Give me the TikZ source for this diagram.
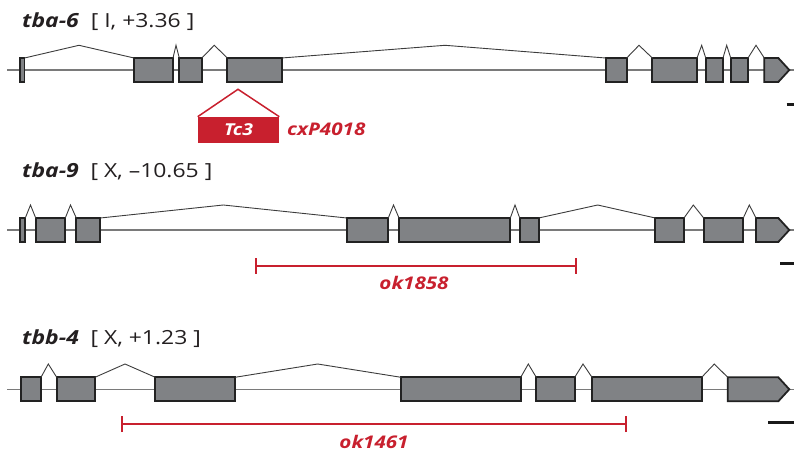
\documentclass[tikz,border=0pt]{standalone}
\usepackage{fontspec}
\setmainfont{Open Sans}[FakeStretch=1.18]
\definecolor{exonfill}{HTML}{808285}
\definecolor{exonline}{HTML}{222222}
\definecolor{axisgray}{HTML}{7A7A7A}
\definecolor{intronc}{HTML}{3C3C3C}
\definecolor{alred}{HTML}{C8202E}
\definecolor{titlec}{HTML}{231F20}
\newcommand{\exonbox}[4]{%
  \node[exon, anchor=west, minimum width={(#3-#2)*1bp}] (#1) at (#2,#4) {};}
\newcommand{\exonarrow}[5]{% name, x1, shoulder, tip, y
  \draw[exon] (#2,#5-12) -- (#3,#5-12) -- (#4,#5) -- (#3,#5+12) -- (#2,#5+12) -- cycle;
  \coordinate (#1) at (#2,#5-12);}
\newcommand{\intron}[4]{% from, to, peakx, peaky
  \coordinate (pk-#1) at (#3,#4);
  \draw[intronline] (#1.north east) -- (pk-#1) -- (#2);}
\begin{document}
\begin{tikzpicture}[x=1bp,y=-1bp,
  exon/.style={draw=exonline, fill=exonfill, line width=1.8bp, rectangle,
    minimum height=24bp, inner sep=0pt, outer sep=0pt, line join=miter},
  axisline/.style={draw=axisgray, line width=1.3bp},
  intronline/.style={draw=intronc, line width=0.9bp, line join=miter},
  title/.style={anchor=base west, inner sep=0pt, text=titlec, font=\fontsize{19.5}{22}\selectfont},
  redlab/.style={text=alred, font=\fontsize{17.5}{20}\selectfont\bfseries\itshape, inner sep=0pt},
  delbar/.style={draw=alred, line width=2bp},
  scalebar/.style={draw=black!90, line width=3bp}]
\useasboundingbox (0,0) rectangle (794,454);

%% ---------------- tba-6 ----------------
\node[title] (t1) at (22,28) {\textbf{\textit{tba-6}}\hspace{0.6em}[ I, +3.36 ]};
\draw[axisline] (7,70) -- (794,70);
\exonbox{a1}{20}{24.5}{70}
\exonbox{a2}{134}{173}{70}
\exonbox{a3}{179.3}{201.7}{70}
\exonbox{a4}{227.3}{281.7}{70}
\exonbox{a5}{605.7}{626.7}{70}
\exonbox{a6}{652.3}{697}{70}
\exonbox{a7}{705.7}{723}{70}
\exonbox{a8}{730.7}{748}{70}
\exonarrow{a9}{764.3}{778.3}{789.3}{70}
\intron{a1}{a2.north west}{79}{45.3}
\intron{a2}{a3.north west}{176}{45.3}
\intron{a3}{a4.north west}{214.3}{45.3}
\intron{a4}{a5.north west}{445}{45.3}
\intron{a5}{a6.north west}{639}{45.3}
\intron{a6}{a7.north west}{701.7}{45.3}
\intron{a7}{a8.north west}{726.7}{45.3}
\intron{a8}{a9}{756}{45.3}
% Tc3 insertion
\coordinate (tcpk) at (238,89.3);
\node[fill=alred, draw=alred, line width=1bp, minimum width=80.6bp, minimum height=25bp,
  inner sep=0pt, anchor=north west, text=white,
  font=\fontsize{16.5}{20}\selectfont\bfseries\itshape] (tc3) at (197.7,116.7) {Tc3};
\draw[draw=alred, line width=1.5bp] (tc3.north west) -- (tcpk) -- (tc3.north east);
\node[redlab, anchor=base west] (cxp) at (287,136) {cxP4018};
\coordinate (sb1a) at (786.7,104.3); \coordinate (sb1b) at (794,104.3);
\draw[scalebar] (sb1a) -- (sb1b);

%% ---------------- tba-9 ----------------
\node[title] (t2) at (22,178) {\textbf{\textit{tba-9}}\hspace{0.6em}[ X, –10.65 ]};
\draw[axisline] (7,230) -- (794,230);
\exonbox{b1}{20}{25.3}{230}
\exonbox{b2}{35.7}{65.3}{230}
\exonbox{b3}{76.3}{100.3}{230}
\exonbox{b4}{346.7}{388.3}{230}
\exonbox{b5}{399}{510.3}{230}
\exonbox{b6}{519.7}{538.7}{230}
\exonbox{b7}{655.3}{684}{230}
\exonbox{b8}{703.7}{743.3}{230}
\exonarrow{b9}{756}{778.3}{789.3}{230}
\intron{b1}{b2.north west}{30.5}{205}
\intron{b2}{b3.north west}{70.5}{205}
\intron{b3}{b4.north west}{223.3}{205}
\intron{b4}{b5.north west}{393.5}{205}
\intron{b5}{b6.north west}{515}{205}
\intron{b6}{b7.north west}{597.7}{205}
\intron{b7}{b8.north west}{693.3}{205}
\intron{b8}{b9}{749.3}{205}
% ok1858 deletion
\coordinate (d2a) at (255.5,266); \coordinate (d2b) at (575.5,266);
\draw[delbar] (d2a) -- (d2b);
\draw[delbar] ([yshift=-8bp]d2a) -- ([yshift=8bp]d2a);
\draw[delbar] ([yshift=-8bp]d2b) -- ([yshift=8bp]d2b);
\node[redlab, anchor=base] (ok1) at (414,290) {ok1858};
\coordinate (sb2a) at (780,263.3); \coordinate (sb2b) at (794,263.3);
\draw[scalebar] (sb2a) -- (sb2b);

%% ---------------- tbb-4 ----------------
\node[title] (t3) at (22,345) {\textbf{\textit{tbb-4}}\hspace{0.6em}[ X, +1.23 ]};
\draw[axisline] (7,389.3) -- (794,389.3);
\exonbox{c1}{20.7}{41}{389.3}
\exonbox{c2}{56.7}{95}{389.3}
\exonbox{c3}{155.3}{235}{389.3}
\exonbox{c4}{401}{520.7}{389.3}
\exonbox{c5}{536.3}{574.7}{389.3}
\exonbox{c6}{592}{701.7}{389.3}
\exonarrow{c7}{727.7}{778.3}{789.3}{389.3}
\intron{c1}{c2.north west}{48.3}{364}
\intron{c2}{c3.north west}{125}{364}
\intron{c3}{c4.north west}{317.7}{364}
\intron{c4}{c5.north west}{528.3}{364}
\intron{c5}{c6.north west}{583}{364}
\intron{c6}{c7}{714.3}{364}
% ok1461 deletion
\coordinate (d3a) at (122,424); \coordinate (d3b) at (626.3,424);
\draw[delbar] (d3a) -- (d3b);
\draw[delbar] ([yshift=-8bp]d3a) -- ([yshift=8bp]d3a);
\draw[delbar] ([yshift=-8bp]d3b) -- ([yshift=8bp]d3b);
\node[redlab, anchor=base] (ok2) at (374,448) {ok1461};
\coordinate (sb3a) at (768.3,422.7); \coordinate (sb3b) at (794,422.7);
\draw[scalebar] (sb3a) -- (sb3b);
\end{tikzpicture}
\end{document}
